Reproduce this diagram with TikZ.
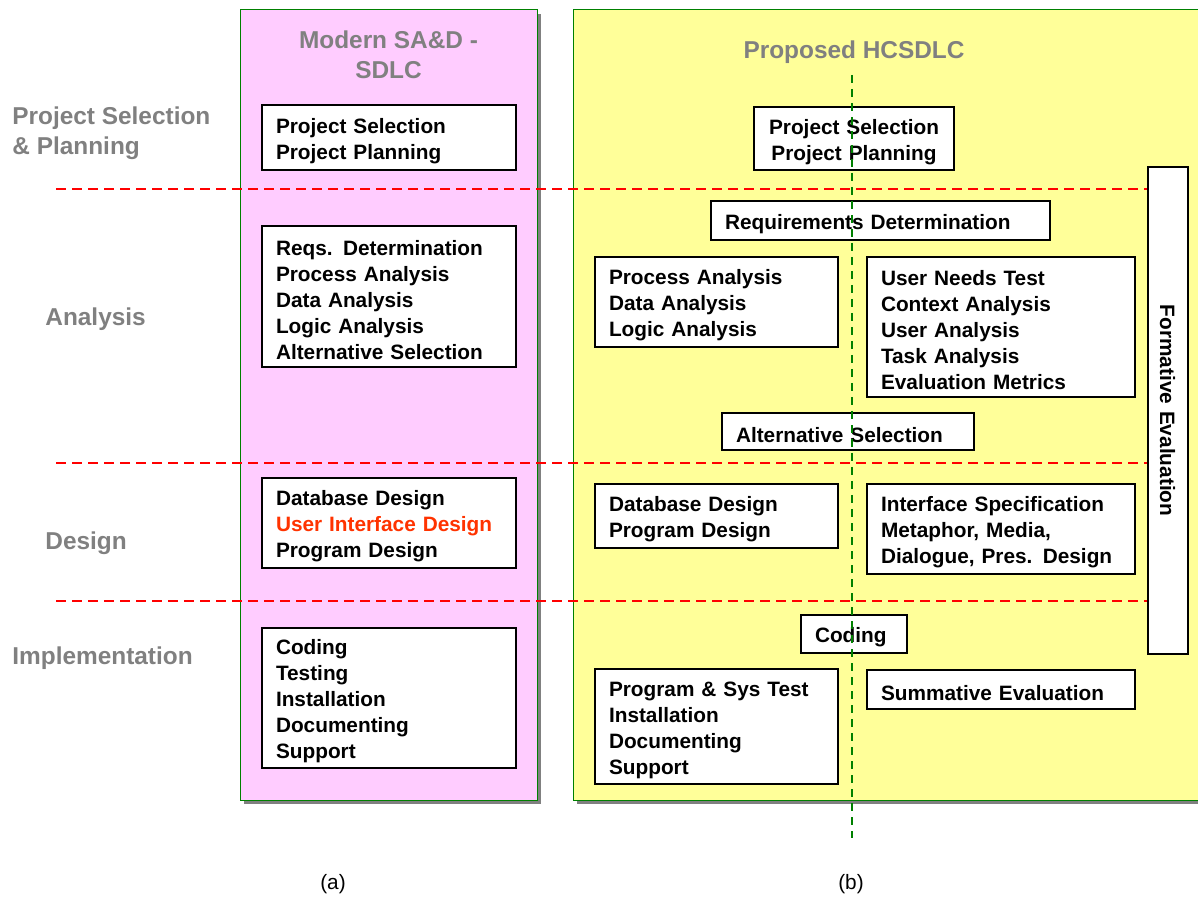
\documentclass[tikz,border=0pt]{standalone}
\usepackage{fontspec}
\setmainfont{Liberation Sans}
\usetikzlibrary{positioning, shadows}
\definecolor{pnk}{HTML}{FFCCFF}
\definecolor{yel}{HTML}{FFFF99}
\definecolor{gry}{HTML}{808080}
\definecolor{grn}{HTML}{008000}
\definecolor{redd}{HTML}{FF0000}
\definecolor{ored}{HTML}{FF3300}
\tikzset{
    box/.style={draw, fill=white, line width=0.8pt, align=left, anchor=north west, inner xsep=7pt, inner ysep=2pt, outer sep=0pt,
        font=\bfseries\fontsize{10.4}{13}\selectfont, text height=11pt,
        drop shadow={shadow xshift=0.7pt, shadow yshift=-0.7pt, fill=gray!80, opacity=1}},
    panel/.style={draw=grn, line width=0.5pt, anchor=north west, outer sep=0pt,
        drop shadow={shadow xshift=2pt, shadow yshift=-2pt, fill=gry, opacity=1}},
    phase/.style={text=gry, font=\bfseries\fontsize{12.2}{15}\selectfont, align=left, anchor=west, inner sep=0pt},
    ttl/.style={text=gry, font=\bfseries\fontsize{12.2}{15}\selectfont, align=center, inner sep=0pt},
    sep/.style={redd, dash pattern=on 5pt off 3pt, line width=1pt},
}
\begin{document}
\begin{tikzpicture}[x=0.5pt, y=-0.5pt]
    \useasboundingbox (0,0) rectangle (1198,897);
    \node[panel, fill=pnk, minimum width=148.5pt, minimum height=395pt] (pl) at (240,10) {};
    \node[panel, fill=yel, minimum width=318pt, minimum height=395pt] (pr) at (573,10) {};
    \node[ttl] (tl) at (388.5,55) {Modern SA\&D -\\SDLC};
    \node[ttl] (tr) at (854,52) {Proposed HCSDLC};
    \node[phase] (ph1) at (12,133) {Project Selection\\\& Planning};
    \node[phase] (ph2) at (45,319) {Analysis};
    \node[phase] (ph3) at (45,543) {Design};
    \node[phase] (ph4) at (12,658) {Implementation};
    \foreach \y in {189,463,601}
    {
        \draw[sep] (56,\y) -- (1148,\y);
    }
    \node[box, text width=113pt, minimum height=32.5pt] (lps) at (262,105) {Project Selection\\Project Planning};
    \node[box, text width=113pt, minimum height=70.5pt] (lan) at (262,226) {Reqs. Determination\\Process Analysis\\Data Analysis\\Logic Analysis\\Alternative Selection};
    \node[box, text width=113pt, minimum height=45pt] (lds) at (262,478) {Database Design\\\textcolor{ored}{User Interface Design}\\Program Design};
    \node[box, text width=113pt, minimum height=70pt] (lim) at (262,628) {Coding\\Testing\\Installation\\Documenting\\Support};
    \node[box, align=center, text width=86pt, minimum height=31.5pt] (rps) at (754,107) {Project Selection\\Project Planning};
    \node[box, text width=155.5pt, minimum height=19.5pt] (req) at (711,201) {Requirements Determination};
    \node[box, text width=107.5pt, minimum height=45pt] (pan) at (595,257) {Process Analysis\\Data Analysis\\Logic Analysis};
    \node[box, text width=120pt, minimum height=70pt] (une) at (867,257) {User Needs Test\\Context Analysis\\User Analysis\\Task Analysis\\Evaluation Metrics};
    \node[box, text width=112pt, minimum height=18.5pt] (alt) at (722,413) {Alternative Selection};
    \node[box, text width=107.5pt, minimum height=32pt] (dbd) at (595,484) {Database Design\\Program Design};
    \node[box, text width=120pt, minimum height=45pt] (isp) at (867,484) {Interface Specification\\Metaphor, Media,\\Dialogue, Pres. Design};
    \node[box, text width=39pt, minimum height=19pt] (cod) at (801,615) {Coding};
    \node[box, text width=107.5pt, minimum height=57.5pt] (pst) at (595,669) {Program \& Sys Test\\Installation\\Documenting\\Support};
    \node[box, text width=120pt, minimum height=19.5pt] (sev) at (867,670) {Summative Evaluation};
    \node[box, text height=8pt, anchor=center, align=center, rotate=-90, minimum width=243.5pt, minimum height=20pt, text width=229pt] (fev) at (1168,410.5) {Formative Evaluation};
    \draw[grn, dash pattern=on 4pt off 3pt, line width=1pt] (852,75) -- (852,838);
    \node[font=\fontsize{10.4}{12}\selectfont] (ca) at (333,884) {(a)};
    \node[font=\fontsize{10.4}{12}\selectfont] (cb) at (851,884) {(b)};
\end{tikzpicture}
\end{document}
